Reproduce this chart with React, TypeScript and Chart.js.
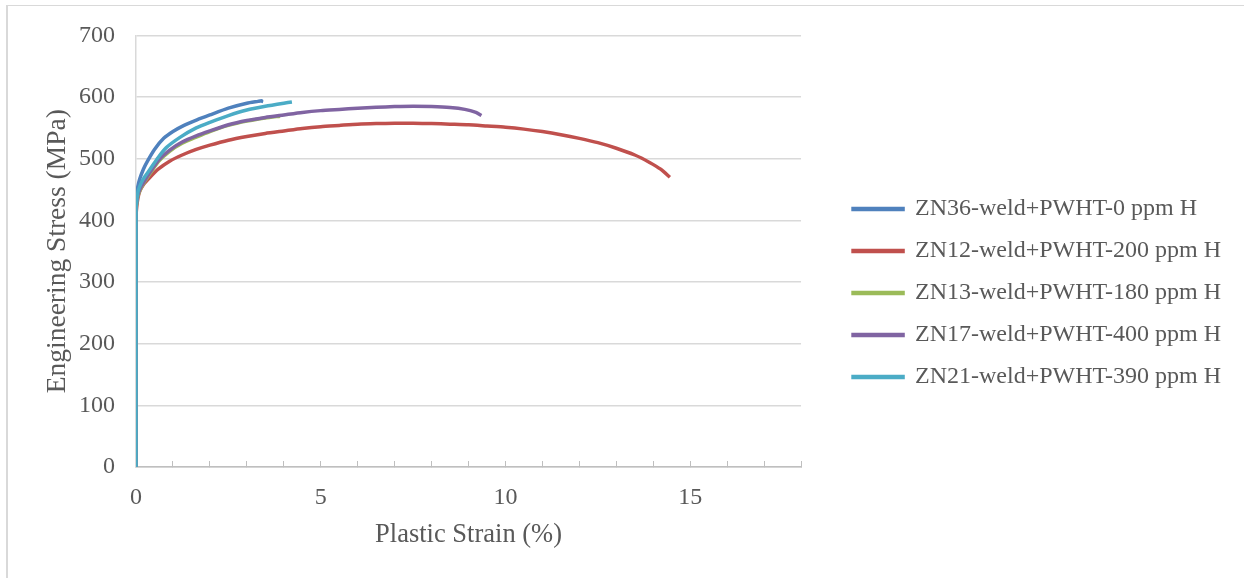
import { useEffect, useRef } from 'react';
import { Chart, registerables } from 'chart.js';

Chart.register(...registerables);

const seriesNames = [
  'ZN36-weld+PWHT-0 ppm H',
  'ZN12-weld+PWHT-200 ppm H',
  'ZN13-weld+PWHT-180 ppm H',
  'ZN17-weld+PWHT-400 ppm H',
  'ZN21-weld+PWHT-390 ppm H',
];
const seriesColors = ['#4F81BD', '#C0504D', '#9BBB59', '#8064A2', '#4BACC6'];

const zn36Strain = [0, 0, 0.02, 0.05, 0.1, 0.2, 0.3, 0.5, 0.75, 1.0, 1.3, 1.65, 2.0, 2.5, 3.0, 3.3, 3.4, 3.38];
const zn36Stress = [0, 420, 440, 455, 467, 483, 495, 515, 533, 544, 554, 563, 571, 582, 590, 593, 594, 591];

const zn12Strain = [0, 0, 0.02, 0.05, 0.1, 0.2, 0.38, 0.6, 0.91, 1.25, 1.63, 2.0, 2.5, 3.0, 3.5, 4.0, 4.5, 5.0, 5.5, 6.0, 6.5, 7.0, 7.5, 8.0, 8.5, 9.0, 9.5, 10.0, 10.5, 11.0, 11.5, 12.0, 12.5, 13.0, 13.5, 13.9, 14.2, 14.45];
const zn12Stress = [0, 405, 422, 435, 447, 458, 470, 483, 496, 506, 515, 522, 530, 536, 541, 545, 549, 552, 554, 556, 557, 557.5, 557.5, 557, 556, 555, 553, 551, 548, 544, 539, 533, 526, 517, 506, 494, 483, 470];

const zn13Strain = [0, 0, 0.02, 0.06, 0.15, 0.25, 0.38, 0.6, 0.91, 1.25, 1.63, 2.0, 2.5, 3.0, 3.5, 3.9];
const zn13Stress = [0, 413, 428, 441, 454, 464, 476, 495, 512, 525, 535, 544, 554, 561, 566, 569];

const zn17Strain = [0, 0, 0.02, 0.06, 0.15, 0.25, 0.38, 0.6, 0.91, 1.25, 1.63, 2.0, 2.5, 3.0, 3.5, 4.0, 4.5, 5.0, 5.5, 6.0, 6.5, 7.0, 7.5, 8.0, 8.5, 8.9, 9.2, 9.35];
const zn17Stress = [0, 415, 430, 443, 456, 466, 478, 497, 514, 527, 537, 545, 555, 562, 567, 571, 575, 578, 580, 582, 583.5, 584.5, 585, 584.5, 583, 580, 575, 570];

const zn21Strain = [0, 0, 0.02, 0.06, 0.15, 0.25, 0.38, 0.6, 0.82, 1.2, 1.63, 2.0, 2.5, 3.0, 3.5, 4.0, 4.22];
const zn21Stress = [0, 415, 432, 448, 462, 472, 483, 502, 518, 535, 550, 559, 570, 579, 585, 590, 592];

const strainSeries = [zn36Strain, zn12Strain, zn13Strain, zn17Strain, zn21Strain];
const stressSeries = [zn36Stress, zn12Stress, zn13Stress, zn17Stress, zn21Stress];

const xMax = 18;
const xMajorStep = 5;
const yMax = 700;
const yStep = 100;

const FONT = 'Liberation Serif, "Times New Roman", serif';
const TEXT = '#595959';

export default function App() {
  const ref = useRef<HTMLCanvasElement>(null);

  useEffect(() => {
    const canvas = ref.current;
    if (!canvas) return;
    const datasets = seriesNames.map((name, i) => ({
      label: name,
      data: strainSeries[i].map((x, k) => ({ x, y: stressSeries[i][k] })),
      borderColor: seriesColors[i],
      backgroundColor: seriesColors[i],
      borderWidth: 3.5,
      pointRadius: 0,
      tension: 0.2,
      fill: false,
      order: seriesNames.length - i,
    }));
    const chart = new Chart(canvas, {
      type: 'line',
      data: { datasets },
      options: {
        animation: false,
        responsive: false,
        devicePixelRatio: 1,
        layout: { padding: { left: 30, top: 35, right: 13, bottom: 27 } },
        plugins: {
          tooltip: { enabled: false },
          legend: {
            position: 'right',
            align: 'center',
            maxWidth: 440,
            labels: {
              boxWidth: 50,
              boxHeight: 1,
              padding: 18,
              color: TEXT,
              font: { family: FONT, size: 24 },
              sort: (a: any, b: any) => a.datasetIndex - b.datasetIndex,
            },
          },
        },
        scales: {
          x: {
            type: 'linear',
            min: 0,
            max: xMax,
            ticks: {
              stepSize: 1,
              autoSkip: false,
              maxRotation: 0,
              padding: 22,
              color: TEXT,
              font: { family: FONT, size: 24 },
              callback: (v: any) => (Number(v) % xMajorStep === 0 ? String(v) : ''),
            },
            grid: { drawOnChartArea: false, drawTicks: true, tickLength: -6, color: '#bfbfbf', lineWidth: 1 },
            border: { display: true, color: '#bfbfbf', width: 1.5 },
            title: {
              display: true,
              text: 'Plastic Strain (%)',
              color: TEXT,
              font: { family: FONT, size: 26.5 },
              padding: { top: 7, bottom: 0 },
            },
            afterFit: (s: any) => {
              s.height = 84;
            },
          },
          y: {
            min: 0,
            max: yMax,
            ticks: { stepSize: yStep, padding: 21, color: TEXT, font: { family: FONT, size: 24 } },
            grid: { color: '#d9d9d9', lineWidth: 1.5, drawTicks: false },
            border: { display: true, color: '#d9d9d9', width: 1.5 },
            title: {
              display: true,
              text: 'Engineering Stress (MPa)',
              color: TEXT,
              font: { family: FONT, size: 27.5 },
              padding: { top: 11, bottom: 6 },
            },
            afterFit: (s: any) => {
              s.width = 106;
            },
          },
          yGap: {
            position: 'right',
            min: 0,
            max: 1,
            display: true,
            ticks: { display: false },
            grid: { display: false, drawTicks: false },
            border: { display: false },
            afterFit: (s: any) => {
              s.width = 34;
            },
          },
        },
      } as any,
    });
    return () => chart.destroy();
  }, []);

  return (
    <div style={{ position: 'absolute', left: 0, top: 0, width: 1244, height: 578, overflow: 'hidden', background: '#fff' }}>
      <div
        style={{
          position: 'absolute',
          left: 6,
          top: 5,
          width: 1300,
          height: 700,
          borderLeft: '2px solid #d9d9d9',
          borderTop: '1px solid #d9d9d9',
        }}
      />
      <canvas ref={ref} width={1244} height={578} style={{ position: 'absolute', left: 0, top: 0 }} />
    </div>
  );
}
